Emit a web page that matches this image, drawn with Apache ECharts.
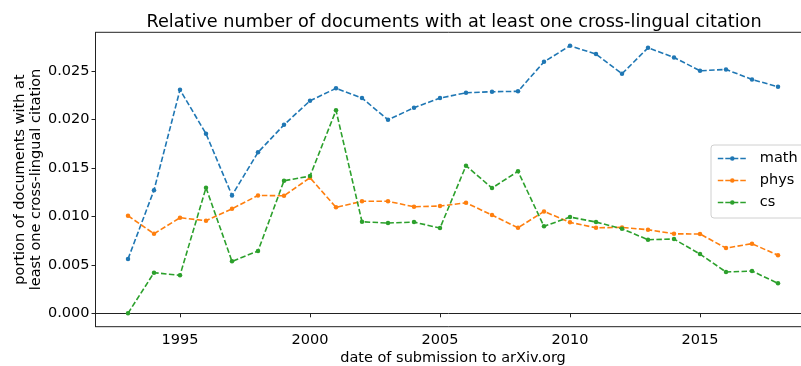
<!DOCTYPE html>
<html>
<head>
<meta charset="utf-8">
<script src="https://cdn.jsdelivr.net/npm/echarts@6/dist/echarts.min.js"></script>
<style>
html,body{margin:0;padding:0;background:#fff;}
#c{width:801px;height:366px;}
</style>
</head>
<body>
<div id="c"></div>
<script>
const years = [1993,1994,1995,1996,1997,1998,1999,2000,2001,2002,2003,2004,2005,2006,2007,2008,2009,2010,2011,2012,2013,2014,2015,2016,2017,2018];
const math = [0.0056,0.0127,0.02305,0.01852,0.01216,0.0166,0.01944,0.02192,0.0232,0.0222,0.01996,0.0212,0.0222,0.02274,0.02285,0.02289,0.02594,0.02759,0.02673,0.0247,0.02738,0.02639,0.02501,0.02515,0.02412,0.02336];
const phys = [0.01006,0.0082,0.00986,0.00955,0.01078,0.01216,0.01212,0.01398,0.01093,0.01155,0.01155,0.01099,0.01106,0.0114,0.01013,0.00882,0.01051,0.00938,0.00882,0.00886,0.00862,0.0082,0.00818,0.00673,0.00718,0.00598];
const cs = [0.0,0.00419,0.00392,0.01295,0.00536,0.00642,0.01367,0.01415,0.02093,0.00944,0.00931,0.00941,0.00879,0.01522,0.01292,0.01464,0.00897,0.00993,0.00941,0.00872,0.00759,0.00766,0.00611,0.00426,0.00436,0.00309];
const xTicks = [1995,2000,2005,2010,2015];
const yTicks = [0,0.005,0.010,0.015,0.020,0.025];
const seriesNames = ['math','phys','cs'];
const colors = ['#1f77b4','#ff7f0e','#2ca02c'];

const font = 'DejaVu Sans';
const chart = echarts.init(document.getElementById('c'), null, {renderer:'canvas'});
const allData = [math, phys, cs];
chart.setOption({
  animation: false,
  backgroundColor: '#fff',
  title: {
    text: 'Relative number of documents with at least one cross-lingual citation',
    left: 449, top: 8, textAlign: 'center',
    textStyle: {fontFamily: font, fontSize: 17.7, fontWeight: 'normal', color: '#000'}
  },
  legend: {
    orient: 'vertical', left: 711, top: 145,
    data: seriesNames,
    backgroundColor: 'rgba(255,255,255,0.8)',
    borderColor: '#d0d0d0', borderWidth: 1, borderRadius: 3,
    padding: [5, 10, 7, 6],
    itemWidth: 29, itemHeight: 5.6, itemGap: 5,
    lineStyle: {type: [5.5, 2], width: 1.6},
    textStyle: {fontFamily: font, fontSize: 14.5, color: '#000', padding: [0,0,0,8], lineHeight: 17}
  },
  grid: {left: 95.5, top: 32.3, right: -9.5, bottom: 39.3, outerBoundsMode: 'none', containLabel: false,
         show: true, borderColor: '#222', borderWidth: 1, backgroundColor: 'transparent'},
  xAxis: {
    type: 'value', min: 1991.75, max: 2019.25,
    name: 'date of submission to arXiv.org', nameLocation: 'middle', nameGap: 24, nameMoveOverlap: false,
    nameTextStyle: {fontFamily: font, fontSize: 14.5, color: '#000'},
    axisLine: {show: true, lineStyle: {color: '#222', width: 1}},
    axisTick: {show: true, length: 4, lineStyle: {color: '#222', width: 1}, customValues: xTicks},
    axisLabel: {fontFamily: font, fontSize: 14.5, color: '#000', margin: 6, customValues: xTicks, formatter: v => String(v)},
    splitLine: {show: false}
  },
  yAxis: {
    type: 'value', min: -0.00138, max: 0.02898,
    name: 'portion of documents with at\nleast one cross-lingual citation', nameLocation: 'middle', nameGap: 51, nameMoveOverlap: false,
    nameTextStyle: {fontFamily: font, fontSize: 14.5, color: '#000', lineHeight: 16},
    axisLine: {show: true, lineStyle: {color: '#222', width: 1}},
    axisTick: {show: true, length: 4, lineStyle: {color: '#222', width: 1}, customValues: yTicks},
    axisLabel: {fontFamily: font, fontSize: 14.5, color: '#000', margin: 6, customValues: yTicks, formatter: v => v.toFixed(3)},
    splitLine: {show: false}
  },
  series: seriesNames.map((n, i) => ({
    name: n, type: 'line',
    data: years.map((y, j) => [y, allData[i][j]]),
    symbol: 'circle', symbolSize: 4.5, showSymbol: true,
    itemStyle: {color: colors[i]},
    lineStyle: {color: colors[i], width: 1.6, type: [5.5, 2.4]},
    emphasis: {disabled: true}
  }))
});
</script>
</body>
</html>
